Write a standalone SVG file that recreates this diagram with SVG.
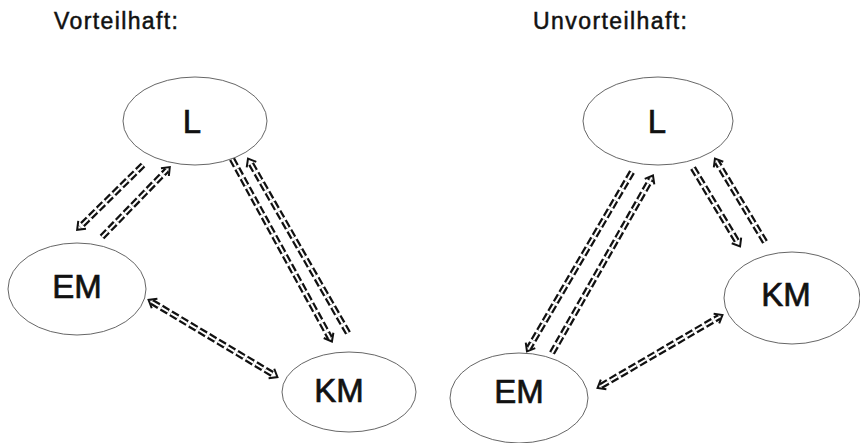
<svg xmlns="http://www.w3.org/2000/svg" xmlns:xlink="http://www.w3.org/1999/xlink" width="860" height="443" viewBox="0 0 860 443">
<style>
  .title { font-family: "Liberation Sans", Arial, sans-serif; font-size: 23px; fill: #111; stroke: #111; stroke-width: 0.5; }
  .lbl { font-family: "Liberation Sans", Arial, sans-serif; font-size: 33px; fill: #111; stroke: #111; stroke-width: 0.7; text-anchor: middle; }
  .node { fill: #fff; stroke: #555; stroke-width: 0.9; }
  .ob { fill: none; stroke: #111; stroke-width: 6.5; stroke-dasharray: 8 3; }
  .iw { fill: none; stroke: #fff; stroke-width: 2; stroke-dasharray: 8 3; }
  .e { marker-end: url(#chev); }
  .b { marker-start: url(#chev); marker-end: url(#chev); }
</style>
<defs>
  <marker id="chev" markerUnits="userSpaceOnUse" markerWidth="14" markerHeight="14" refX="0" refY="0" viewBox="-6 -7 14 14" orient="auto-start-reverse" overflow="visible">
    <path d="M-3,-5.5 L4,0 L-3,5.5" fill="none" stroke="#111" stroke-width="2" stroke-linejoin="miter"/>
  </marker>
  <path id="c1" d="M143,165 L80,227"/>
  <path id="c2" d="M102,237 L167,170"/>
  <path id="c3" d="M232,159 L330,338"/>
  <path id="c4" d="M348,333 L250,162"/>
  <path id="c5" d="M152,302 L274,375"/>
  <path id="c6" d="M632,172 L529,348"/>
  <path id="c7" d="M552,353 L651,179"/>
  <path id="c8" d="M693,168 L738,243"/>
  <path id="c9" d="M765,242 L717,162"/>
  <path id="c10" d="M601,386 L719,317"/>
</defs>
<rect width="860" height="443" fill="#fff"/>
<text class="title" x="54" y="29" textLength="124" lengthAdjust="spacing">Vorteilhaft:</text>
<text class="title" x="533" y="29" textLength="154" lengthAdjust="spacing">Unvorteilhaft:</text>

<g id="connectors">
  <use xlink:href="#c1" class="ob"/><use xlink:href="#c1" class="iw e"/>
  <use xlink:href="#c2" class="ob"/><use xlink:href="#c2" class="iw e"/>
  <use xlink:href="#c3" class="ob"/><use xlink:href="#c3" class="iw e"/>
  <use xlink:href="#c4" class="ob"/><use xlink:href="#c4" class="iw e"/>
  <use xlink:href="#c5" class="ob"/><use xlink:href="#c5" class="iw b"/>
  <use xlink:href="#c6" class="ob"/><use xlink:href="#c6" class="iw e"/>
  <use xlink:href="#c7" class="ob"/><use xlink:href="#c7" class="iw e"/>
  <use xlink:href="#c8" class="ob"/><use xlink:href="#c8" class="iw e"/>
  <use xlink:href="#c9" class="ob"/><use xlink:href="#c9" class="iw e"/>
  <use xlink:href="#c10" class="ob"/><use xlink:href="#c10" class="iw b"/>
</g>

<g id="left-L">
  <ellipse class="node" cx="195" cy="121" rx="72" ry="44"/>
  <text class="lbl" x="192" y="133">L</text>
</g>
<g id="left-EM">
  <ellipse class="node" cx="77" cy="289" rx="69" ry="46"/>
  <text class="lbl" x="77" y="298">EM</text>
</g>
<g id="left-KM">
  <ellipse class="node" cx="349" cy="392" rx="67" ry="40"/>
  <text class="lbl" x="339" y="402">KM</text>
</g>
<g id="right-L">
  <ellipse class="node" cx="658" cy="121" rx="75" ry="44"/>
  <text class="lbl" x="657" y="133">L</text>
</g>
<g id="right-KM">
  <ellipse class="node" cx="792" cy="298" rx="68" ry="46"/>
  <text class="lbl" x="786" y="306">KM</text>
</g>
<g id="right-EM">
  <ellipse class="node" cx="519" cy="398" rx="69" ry="45"/>
  <text class="lbl" x="519" y="403">EM</text>
</g>
</svg>
